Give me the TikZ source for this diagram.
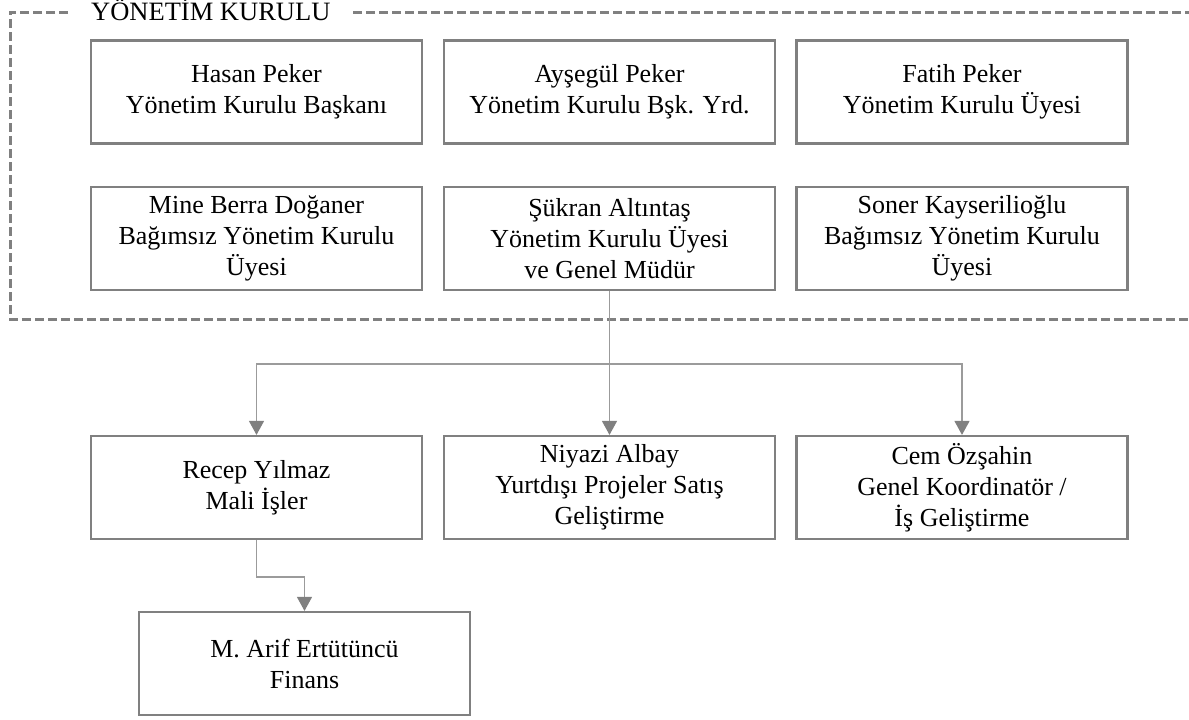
\documentclass[tikz,border=0pt]{standalone}
\usepackage{fontspec}
\setmainfont{Liberation Serif}
\usetikzlibrary{arrows.meta}
\definecolor{boxgray}{RGB}{128,128,128}
\definecolor{linegray}{RGB}{155,155,155}
\definecolor{tipgray}{RGB}{128,128,128}
\tikzset{
  person/.style={draw=boxgray, line width=2.2pt, rectangle, minimum width=331pt, minimum height=103pt,
    align=center, inner sep=2pt, font=\fontsize{26}{31}\selectfont, text=black},
  conn/.style={draw=linegray, line width=1.3pt,
    -{Triangle[length=14pt,width=15pt,color=tipgray,fill=tipgray]}},
  frame/.style={draw=boxgray, line width=3pt, dash pattern=on 9pt off 4pt},
}
\begin{document}
\begin{tikzpicture}[x=1pt,y=-1pt]
\useasboundingbox (0,0) rectangle (1189,720);
\begin{scope}
\clip (0,0) rectangle (1189,720);
\draw[frame] (68,12) -- (10,12) -- (10,319) -- (1200,319);
\draw[frame] (353,12) -- (1200,12);
\node[anchor=base west, inner sep=0pt, font=\fontsize{26.5}{30}\selectfont] (title) at (91,20.5) {YÖNETİM KURULU};
\end{scope}

\node[person] (hasan) at (256.5,92) {Hasan Peker\\Yönetim Kurulu Başkanı};
\node[person] (aysegul) at (609.5,92) {Ayşegül Peker\\Yönetim Kurulu Bşk. Yrd.};
\node[person] (fatih) at (962,92) {Fatih Peker\\Yönetim Kurulu Üyesi};

\node[person] (mine) at (256.5,238.5) {Mine Berra Doğaner\\Bağımsız Yönetim Kurulu\\Üyesi};
\node[person] (sukran) at (609.5,238.5) {Şükran Altıntaş\\Yönetim Kurulu Üyesi\\ve Genel Müdür};
\node[person] (soner) at (962,238.5) {Soner Kayserilioğlu\\Bağımsız Yönetim Kurulu\\Üyesi};

\node[person] (recep) at (256.5,487.5) {Recep Yılmaz\\Mali İşler};
\node[person] (niyazi) at (609.5,487.5) {Niyazi Albay\\Yurtdışı Projeler Satış\\Geliştirme};
\node[person] (cem) at (962,487.5) {Cem Özşahin\\Genel Koordinatör /\\İş Geliştirme};

\node[person] (arif) at (304.5,663.5) {M. Arif Ertütüncü\\Finans};

\coordinate (j) at (609.5,364);
\draw[conn] (sukran.south) -- (niyazi.north);
\draw[conn] (j) -| (recep.north);
\draw[conn] (j) -| (cem.north);
\draw[conn] (recep.south) -- ++(0,37) -| (arif.north);
\end{tikzpicture}
\end{document}
